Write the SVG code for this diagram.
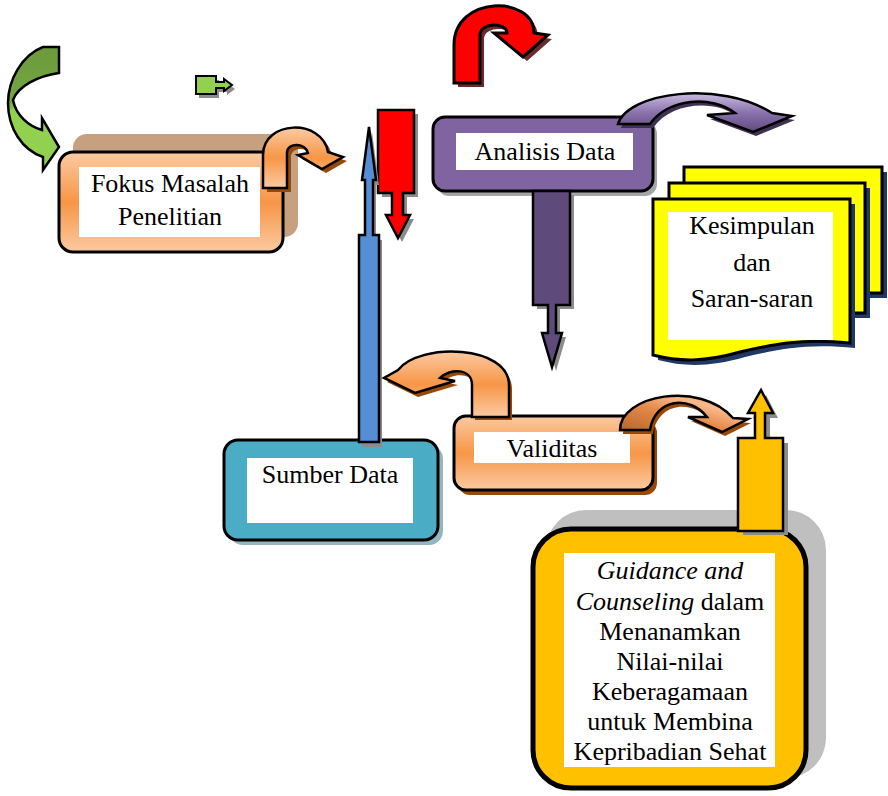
<svg xmlns="http://www.w3.org/2000/svg" width="888" height="796" viewBox="0 0 888 796">
<style>
.t{font-family:"Liberation Serif","Times New Roman",serif;font-size:26px;fill:#000;text-anchor:middle}
.i{font-style:italic}
.ol{stroke:#000;stroke-width:3;stroke-linejoin:miter}
.ol2{stroke:#000;stroke-width:2.5;stroke-linejoin:miter}
.wh{fill:#fff}
.gs{fill:#8c8c8c}
</style>
<defs>
<linearGradient id="gOr" x1="0" y1="0" x2="0" y2="1">
<stop offset="0" stop-color="#fbcaa2"/><stop offset="0.5" stop-color="#f79646"/><stop offset="1" stop-color="#fbcaa2"/>
</linearGradient>
<linearGradient id="gOr2" x1="0" y1="1" x2="1" y2="0">
<stop offset="0" stop-color="#b5652b"/><stop offset="0.45" stop-color="#e58a4a"/><stop offset="0.7" stop-color="#f9b98a"/><stop offset="1" stop-color="#f79646"/>
</linearGradient>
<linearGradient id="gGr" x1="0" y1="0" x2="0" y2="1">
<stop offset="0" stop-color="#6c9a3c"/><stop offset="0.45" stop-color="#76a642"/><stop offset="0.52" stop-color="#92d050"/><stop offset="1" stop-color="#92d050"/>
</linearGradient>
<linearGradient id="gPu" x1="0" y1="0" x2="0" y2="1">
<stop offset="0" stop-color="#c9bbe0"/><stop offset="0.5" stop-color="#8a72ad"/><stop offset="1" stop-color="#5f4a7c"/>
</linearGradient>
</defs>

<g id="fokus">
<rect x="73" y="134" width="225" height="103" rx="14" fill="#c6a07f"/>
<rect x="59" y="152" width="224" height="100" rx="14" fill="url(#gOr)" class="ol"/>
<rect x="79" y="167" width="181" height="70" class="wh"/>
<text class="t" x="170" y="192">Fokus Masalah</text>
<text class="t" x="170" y="225">Penelitian</text>
</g>

<g id="analisis">
<rect x="437" y="122" width="220" height="74" rx="12" fill="#a6a6a6"/>
<rect x="433" y="117" width="220" height="74" rx="12" fill="#8064a2" class="ol"/>
<rect x="456" y="133" width="177" height="37" class="wh"/>
<text class="t" x="545" y="160">Analisis Data</text>
</g>

<g id="kesimpulan">
<rect x="689" y="172" width="198" height="126" fill="#1f3864"/>
<rect x="684" y="167" width="198" height="126" fill="#ffff00" class="ol"/>
<rect x="674" y="188" width="196" height="130" fill="#1f3864"/>
<rect x="669" y="183" width="196" height="130" fill="#ffff00" class="ol"/>
<path d="M658,204 H855 V348 C805,343 775,350 745,357 C710,367 685,367 658,360 Z" fill="#1f3864"/>
<path d="M653,199 H850 V343 C800,338 770,345 740,352 C705,362 680,362 653,355 Z" fill="#ffff00" class="ol"/>
<rect x="668" y="212" width="165" height="128" class="wh"/>
<text class="t" x="752" y="234">Kesimpulan</text>
<text class="t" x="752" y="271">dan</text>
<text class="t" x="752" y="307">Saran-saran</text>
</g>

<g id="sumber">
<rect x="229" y="445" width="214" height="100" rx="14" fill="#93b6c0"/>
<rect x="224" y="440" width="214" height="100" rx="14" fill="#4bacc6" class="ol"/>
<rect x="247" y="458" width="166" height="65" class="wh"/>
<text class="t" x="330" y="483">Sumber Data</text>
</g>

<g id="validitas">
<rect x="458" y="421" width="199" height="74" rx="12" fill="#984807"/>
<rect x="454" y="416" width="199" height="74" rx="12" fill="url(#gOr)" class="ol"/>
<rect x="474" y="432" width="156" height="31" class="wh"/>
<text class="t" x="552" y="457">Validitas</text>
</g>

<g id="guidance">
<rect x="546" y="510" width="280" height="268" rx="40" fill="#bfbfbf"/>
<rect x="533" y="529" width="273" height="259" rx="38" fill="#ffc000" stroke="#000" stroke-width="5"/>
<rect x="564" y="553" width="211" height="214" class="wh"/>
<text class="t" x="670" y="579"><tspan class="i">Guidance and</tspan></text>
<text class="t" x="670" y="610"><tspan class="i">Counseling</tspan> dalam</text>
<text class="t" x="670" y="640">Menanamkan</text>
<text class="t" x="670" y="670">Nilai-nilai</text>
<text class="t" x="670" y="700">Keberagamaan</text>
<text class="t" x="670" y="730">untuk Membina</text>
<text class="t" x="670" y="760">Kepribadian Sehat</text>
</g>

<g id="connectors">
<!-- green curved arrow -->
<path d="M43,47 L59,47 L59,73 C38,76 18,86 13,100 C16,115 28,126 42,130 L42,118 L59,147 L43,170 L43,157 C22,150 8,128 8,103 C8,80 22,55 43,47 Z" fill="url(#gGr)" class="ol2"/>
<!-- small green arrow -->
<path d="M199,80 H219 V86 H227 V83 L235,89 L227,95 V92 H219 V98 H199 Z" class="gs"/>
<path d="M196,76 H216 V82 H224 V79 L232,85 L224,91 V88 H216 V94 H196 Z" fill="#92d050" stroke="#000" stroke-width="2"/>
<!-- fokus hook arrow -->
<path d="M267,192 V159 C267,124 326,122 332,156 L347,161 L326,173 L302,159 L312,157 C310,147 292,146 291,156 V192 Z" fill="#984807"/>
<path d="M263,188 V155 C263,120 322,118 328,152 L343,157 L322,169 L298,155 L308,153 C306,143 288,142 287,152 V188 Z" fill="url(#gOr)" class="ol2"/>
<!-- red U-turn -->
<path d="M458,87 V49 C458,-1 538,-1 538,37 L552,39 L527,61 L498,37 L511,37 C511,26 484,26 484,39 V87 Z" fill="#6b2b2b"/>
<path d="M454,83 V45 C454,-5 534,-5 534,33 L548,35 L523,57 L494,33 L507,33 C507,22 480,22 480,35 V83 Z" fill="#ff0000" class="ol"/>
<!-- red down arrow -->
<path d="M382,114 H418 V197 H407 V219 H414 L402,242 L390,219 H396 V197 H382 Z" class="gs"/>
<path d="M378,110 H414 V193 H403 V215 H410 L398,238 L386,215 H392 V193 H378 Z" fill="#ff0000" class="ol2"/>
<!-- blue up arrow -->
<path d="M362,447 V240 H368 V185 H365 L372,132 L379,185 H376 V240 H382 V447 Z" class="gs"/>
<path d="M359,442 V235 H365 V180 H362 L369,127 L376,180 H373 V235 H379 V442 Z" fill="#558ed5" class="ol2"/>
<!-- purple down arrow -->
<path d="M537,195 H574 V309 H560 V337 H566 L556,371 L546,337 H552 V309 H537 Z" class="gs"/>
<path d="M533,191 H570 V305 H556 V333 H562 L552,367 L542,333 H548 V305 H533 Z" fill="#5f4a7c" class="ol2"/>
<!-- purple curved arrow -->
<path d="M621,128 C631,96 723,84 775,117 L795,120 L756,136 L710,119 L738,117 C715,99 671,102 653,128 Z" fill="#3f3151"/>
<path d="M618,124 C628,92 720,80 772,113 L792,116 L753,132 L707,115 L735,113 C712,95 668,98 650,124 Z" fill="url(#gPu)" class="ol2"/>
<!-- validitas to blue -->
<path d="M512,420 V389 C512,349 423,346 401,374 L387,382 L418,397 L458,385 L443,382 C453,372 475,372 475,389 V420 Z" fill="#984807"/>
<path d="M509,417 V385 C509,345 420,342 398,370 L384,378 L415,393 L455,381 L440,378 C450,368 472,368 472,385 V417 Z" fill="url(#gOr)" class="ol2"/>
<!-- validitas to yellow -->
<path d="M623,434 C623,399 703,384 736,422 L751,423 L725,436 L691,421 L710,421 C693,399 658,402 653,434 Z" fill="#984807"/>
<path d="M620,430 C620,395 700,380 733,418 L748,419 L722,432 L688,417 L707,417 C690,395 655,398 650,430 Z" fill="url(#gOr2)" class="ol2"/>
<!-- yellow up arrow -->
<path d="M743,535 V443 H760 V418 H753 L766,395 L778,418 H770 V443 H788 V535 Z" class="gs"/>
<path d="M738,531 V438 H755 V413 H748 L761,390 L773,413 H765 V438 H783 V531 Z" fill="#ffc000" class="ol2"/>
</g>
</svg>
